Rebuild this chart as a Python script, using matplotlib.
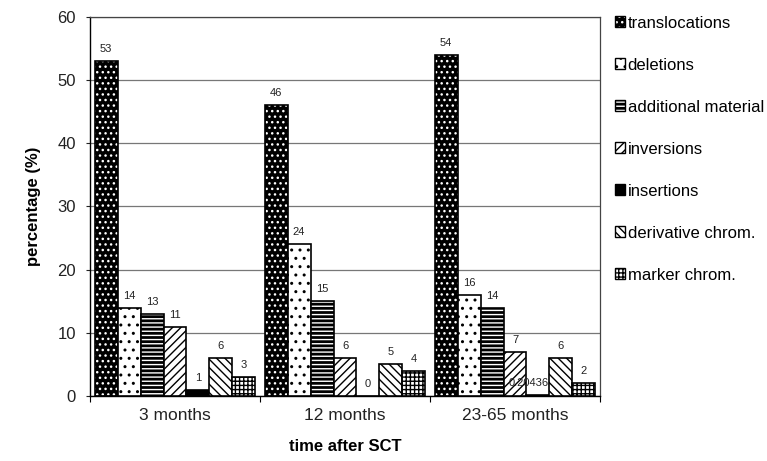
import matplotlib
matplotlib.use('Agg')
import matplotlib.pyplot as plt
import numpy as np
from matplotlib.patches import Patch
from matplotlib.legend_handler import HandlerTuple

plt.rcParams['font.family'] = ['Liberation Sans', 'DejaVu Sans']
plt.rcParams['hatch.linewidth'] = 1.0

categories = ['3 months', '12 months', '23-65 months']
series_names = ['translocations', 'deletions', 'additional material', 'inversions',
                'insertions', 'derivative chrom.', 'marker chrom.']
values = [
    [53, 46, 54],   # translocations
    [14, 24, 16],   # deletions
    [13, 15, 14],   # additional material
    [11, 6, 7],     # inversions
    [1, 0, 0.2],    # insertions
    [6, 5, 6],      # derivative chrom.
    [3, 4, 2],      # marker chrom.
]
value_labels = [
    ['53', '46', '54'],
    ['14', '24', '16'],
    ['13', '15', '14'],
    ['11', '6', '7'],
    ['1', '0', '0.20436364'],
    ['6', '5', '6'],
    ['3', '4', '2'],
]
y_ticks = [0, 10, 20, 30, 40, 50, 60]

# (face, hatch, hatch colour) per series
styles = [
    ('black', '...', 'white'),
    ('white', '..', 'black'),
    ('black', '----', 'white'),
    ('white', '////', 'black'),
    ('black', '', 'black'),
    ('white', '\\\\\\\\', 'black'),
    ('white', '++++', 'black'),
]

fig = plt.figure(figsize=(7.67, 4.61), dpi=100)
ax = fig.add_axes([90 / 767, 1 - 396 / 461, 510 / 767, 379 / 461])

x = np.arange(len(categories)) + 0.5
width = 0.135
handles = []
for i, (name, vals) in enumerate(zip(series_names, values)):
    face, hatch, hcol = styles[i]
    xpos = x + (i - 3) * width
    z = 3 + 3 * i
    ax.bar(xpos, vals, width, color=face, edgecolor=hcol, hatch=hatch,
           linewidth=0, zorder=z)
    ax.bar(xpos, vals, width, fill=False, edgecolor='black', linewidth=1.2, zorder=z + 1)
    # labels sit above this series but under the next one (like the original)
    for xp, v, lab in zip(xpos, vals, value_labels[i]):
        ax.text(xp, v + 1.9, lab, ha='center', va='center', fontsize=8,
                color='#222222', zorder=z + 2)
    h_fill = Patch(facecolor=face, edgecolor=hcol, hatch=hatch, linewidth=0)
    h_edge = Patch(fill=False, edgecolor='black', linewidth=1.0)
    handles.append((h_fill, h_edge))

ax.set_xlim(0, 3)
ax.set_ylim(0, 60)
ax.set_yticks(y_ticks)
ax.tick_params(axis='y', labelsize=12, length=3, pad=7, direction='out', colors='#222222')
ax.set_xticks([0, 1, 2, 3])
ax.set_xticklabels([])
ax.set_xticks(x, minor=True)
ax.set_xticklabels(categories, minor=True)
ax.tick_params(axis='x', which='major', length=4, direction='out')
ax.tick_params(axis='x', which='minor', length=0, labelsize=12.5, pad=9, colors='#222222')
ax.yaxis.grid(True, color='#777777', linewidth=0.9, zorder=0)
ax.set_axisbelow(True)
for side in ['top', 'right']:
    ax.spines[side].set_color('#444444')
    ax.spines[side].set_linewidth(0.9)
ax.spines['left'].set_linewidth(1.0)
ax.spines['bottom'].set_linewidth(1.0)

ax.set_ylabel('percentage (%)', fontsize=12, fontweight='bold', labelpad=12)
ax.set_xlabel('time after SCT', fontsize=12, fontweight='bold', labelpad=11)

fig.legend(handles, series_names, handler_map={tuple: HandlerTuple(ndivide=1)},
           loc='upper left', bbox_to_anchor=(603 / 767, 1 - 4 / 461),
           frameon=False, fontsize=12, handlelength=0.6, handleheight=0.6,
           handletextpad=0.18, labelspacing=1.62, borderpad=0.2)

fig.savefig('out.png', dpi=100)
